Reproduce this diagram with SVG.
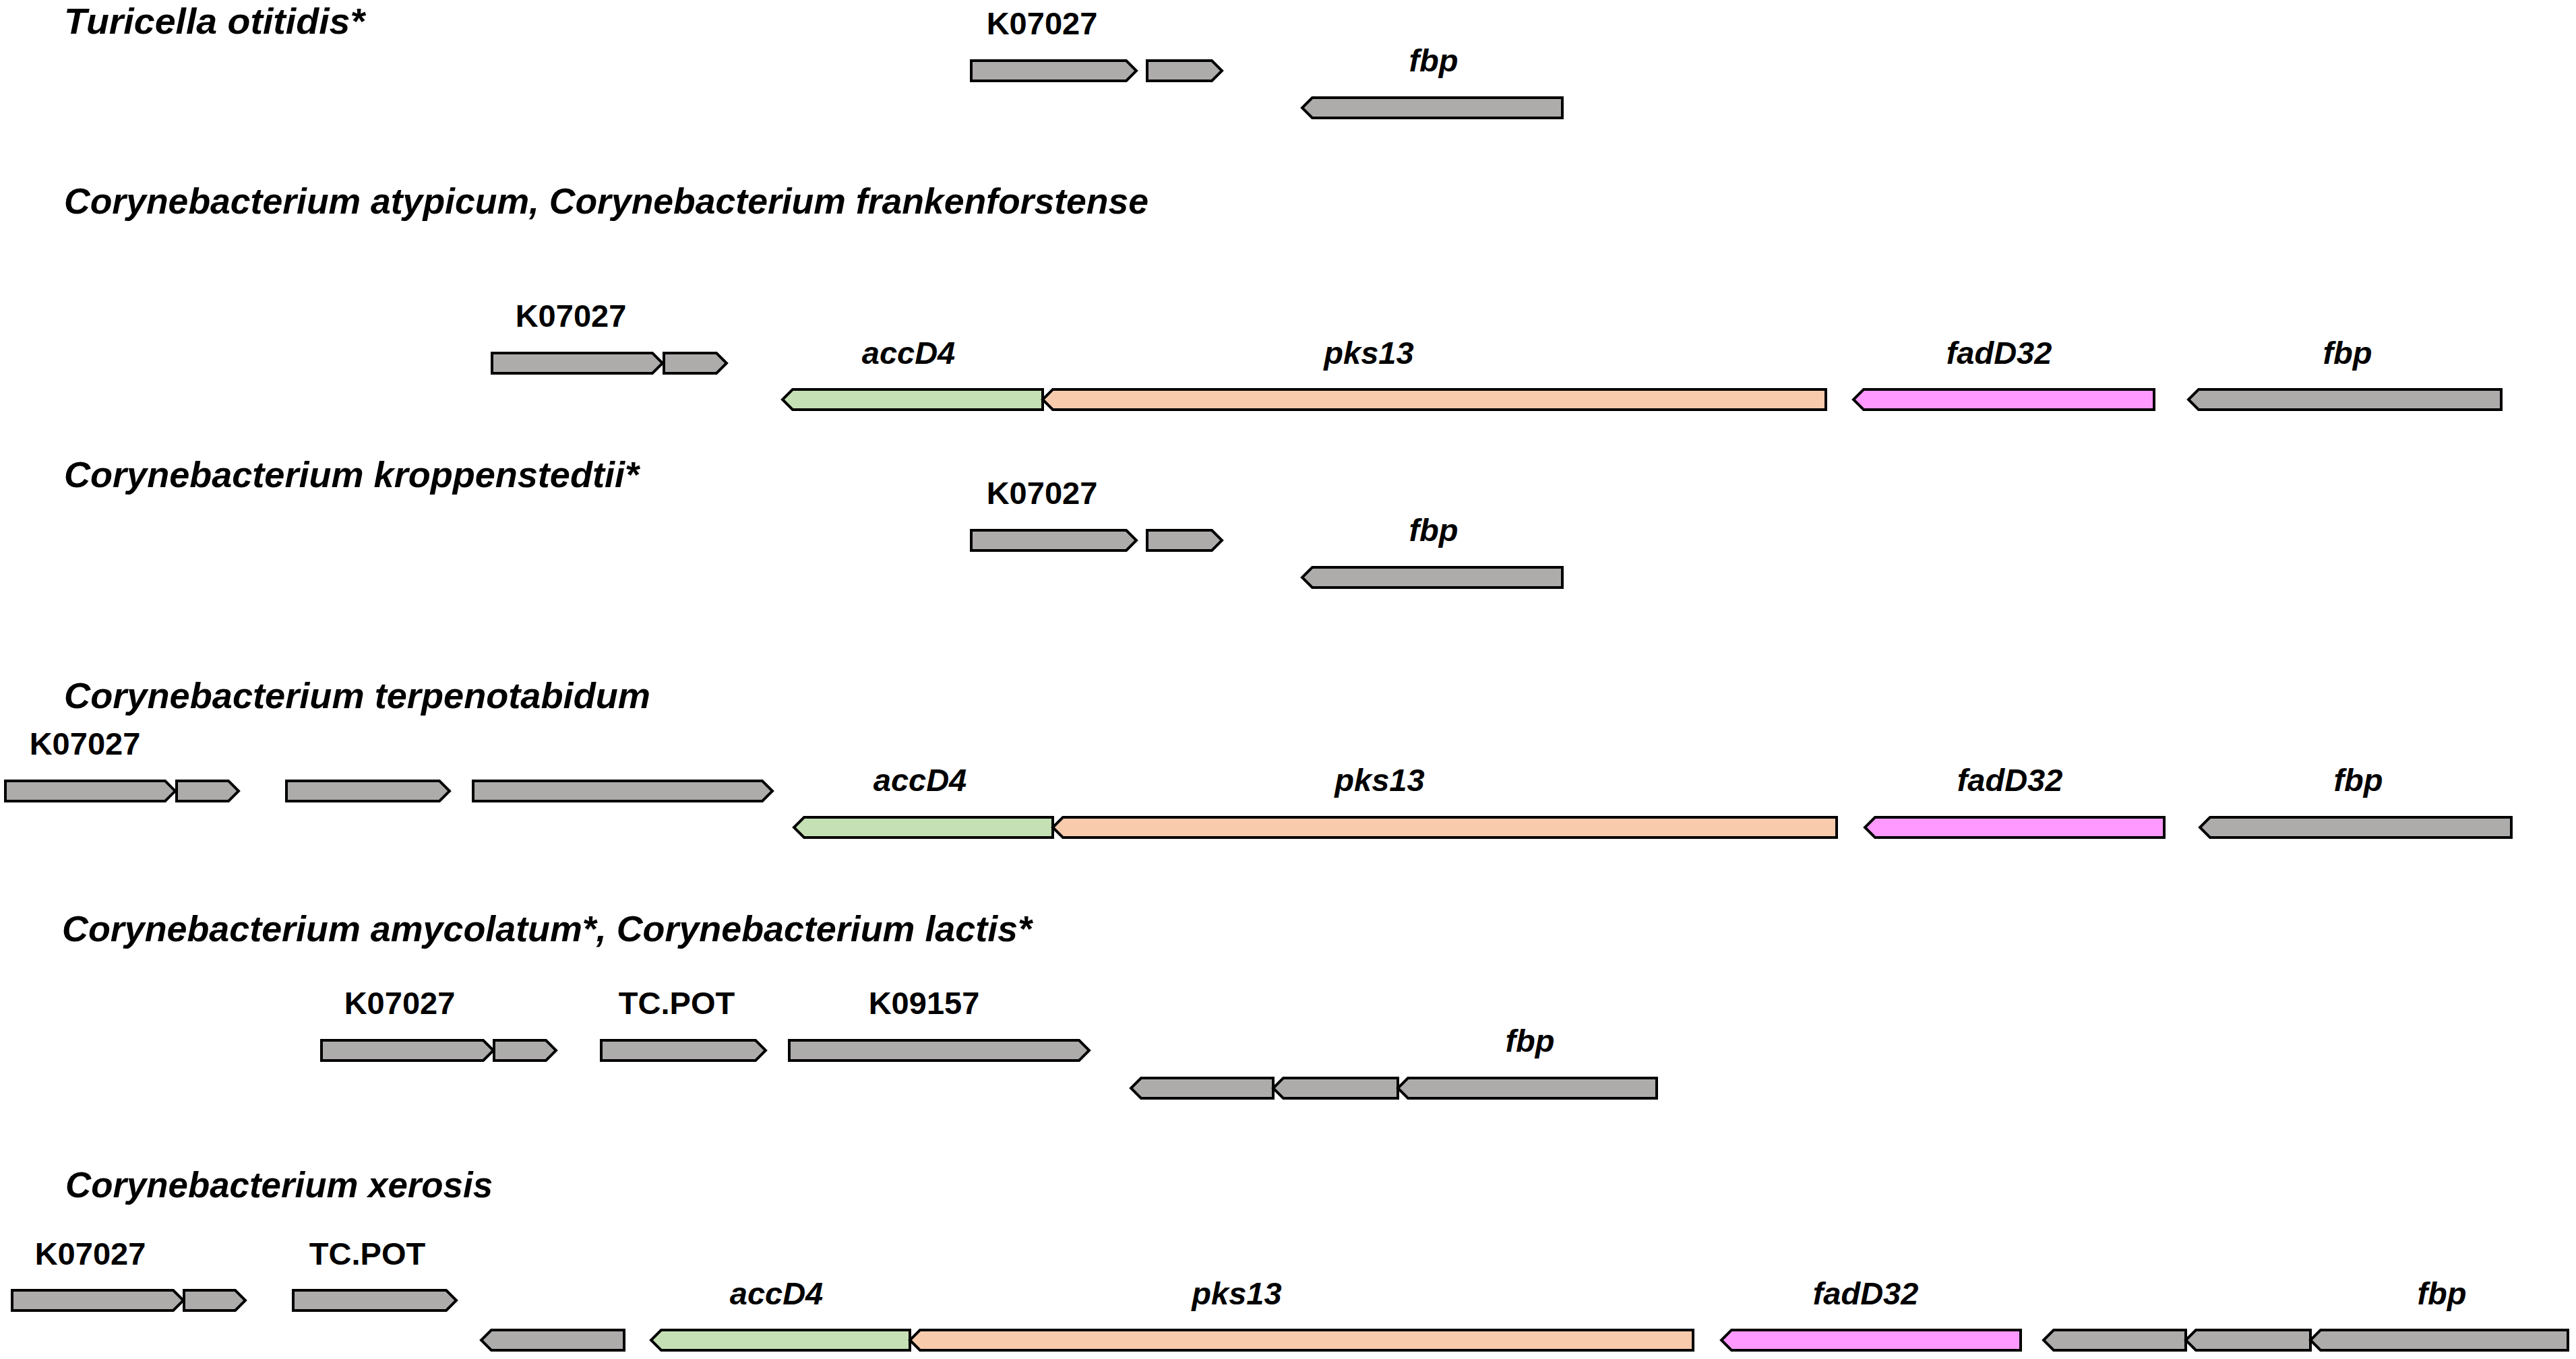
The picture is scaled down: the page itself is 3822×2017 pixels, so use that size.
<svg xmlns="http://www.w3.org/2000/svg" width="3822" height="2017" viewBox="0 0 3822 2017">
<style>
.t{font-family:"Liberation Sans",Arial,sans-serif;font-weight:bold;font-style:italic;font-size:54px;fill:#000}
.l{font-family:"Liberation Sans",Arial,sans-serif;font-weight:bold;font-size:47px;fill:#000;text-anchor:middle}
.i{font-style:italic}
.g{stroke:#000;stroke-width:4;stroke-linejoin:miter}
.gray{fill:#AEABAB}
.green{fill:#C5E0B4}
.peach{fill:#F8CBAD}
.pink{fill:#FF99FF}
</style>
<rect width="3822" height="2017" fill="#fff"/>
<g id="connectors"/>

<g id="row1">
<text class="t" x="95" y="50" textLength="446" lengthAdjust="spacingAndGlyphs">Turicella otitidis*</text>
<g id="r1-k07027"><path class="g gray" d="M1441,90 H1671 L1686,105 L1671,120 H1441 Z"/><text class="l" x="1546" y="51">K07027</text></g>
<g id="r1-g2"><path class="g gray" d="M1702,90 H1798 L1813,105 L1798,120 H1702 Z"/></g>
<g id="r1-fbp"><path class="g gray" d="M2318,145 H1947 L1932,160 L1947,175 H2318 Z"/><text class="l i" x="2127" y="106">fbp</text></g>
</g>

<g id="row2">
<text class="t" x="95" y="317" textLength="1609" lengthAdjust="spacingAndGlyphs">Corynebacterium atypicum, Corynebacterium frankenforstense</text>
<g id="r2-k07027"><path class="g gray" d="M730,524 H968 L983,539 L968,554 H730 Z"/><text class="l" x="847" y="485">K07027</text></g>
<g id="r2-g2"><path class="g gray" d="M985,524 H1063 L1078,539 L1063,554 H985 Z"/></g>
<g id="r2-accD4"><path class="g green" d="M1547,578 H1176 L1161,593 L1176,608 H1547 Z"/><text class="l i" x="1348" y="540">accD4</text></g>
<g id="r2-pks13"><path class="g peach" d="M2709,578 H1562 L1547,593 L1562,608 H2709 Z"/><text class="l i" x="2031" y="540">pks13</text></g>
<g id="r2-fadD32"><path class="g pink" d="M3196,578 H2765 L2750,593 L2765,608 H3196 Z"/><text class="l i" x="2966" y="540">fadD32</text></g>
<g id="r2-fbp"><path class="g gray" d="M3711,578 H3262 L3247,593 L3262,608 H3711 Z"/><text class="l i" x="3483" y="540">fbp</text></g>
</g>

<g id="row3">
<text class="t" x="95" y="723" textLength="853" lengthAdjust="spacingAndGlyphs">Corynebacterium kroppenstedtii*</text>
<g id="r3-k07027"><path class="g gray" d="M1441,787 H1671 L1686,802 L1671,817 H1441 Z"/><text class="l" x="1546" y="748">K07027</text></g>
<g id="r3-g2"><path class="g gray" d="M1702,787 H1798 L1813,802 L1798,817 H1702 Z"/></g>
<g id="r3-fbp"><path class="g gray" d="M2318,842 H1947 L1932,857 L1947,872 H2318 Z"/><text class="l i" x="2127" y="803">fbp</text></g>
</g>

<g id="row4">
<text class="t" x="95" y="1051" textLength="870" lengthAdjust="spacingAndGlyphs">Corynebacterium terpenotabidum</text>
<g id="r4-k07027"><path class="g gray" d="M8,1159 H245 L260,1174 L245,1189 H8 Z"/><text class="l" x="126" y="1120">K07027</text></g>
<g id="r4-g2"><path class="g gray" d="M262,1159 H339 L354,1174 L339,1189 H262 Z"/></g>
<g id="r4-g3"><path class="g gray" d="M425,1159 H652 L667,1174 L652,1189 H425 Z"/></g>
<g id="r4-g4"><path class="g gray" d="M702,1159 H1131 L1146,1174 L1131,1189 H702 Z"/></g>
<g id="r4-accD4"><path class="g green" d="M1562,1213 H1193 L1178,1228 L1193,1243 H1562 Z"/><text class="l i" x="1365" y="1174">accD4</text></g>
<g id="r4-pks13"><path class="g peach" d="M2725,1213 H1577 L1562,1228 L1577,1243 H2725 Z"/><text class="l i" x="2047" y="1174">pks13</text></g>
<g id="r4-fadD32"><path class="g pink" d="M3211,1213 H2782 L2767,1228 L2782,1243 H3211 Z"/><text class="l i" x="2982" y="1174">fadD32</text></g>
<g id="r4-fbp"><path class="g gray" d="M3726,1213 H3279 L3264,1228 L3279,1243 H3726 Z"/><text class="l i" x="3499" y="1174">fbp</text></g>
</g>

<g id="row5">
<text class="t" x="92" y="1397" textLength="1439" lengthAdjust="spacingAndGlyphs">Corynebacterium amycolatum*, Corynebacterium lactis*</text>
<g id="r5-k07027"><path class="g gray" d="M477,1544 H717 L732,1559 L717,1574 H477 Z"/><text class="l" x="593" y="1505">K07027</text></g>
<g id="r5-g2"><path class="g gray" d="M733,1544 H810 L825,1559 L810,1574 H733 Z"/></g>
<g id="r5-tcpot"><path class="g gray" d="M892,1544 H1121 L1136,1559 L1121,1574 H892 Z"/><text class="l" x="1004" y="1505">TC.POT</text></g>
<g id="r5-k09157"><path class="g gray" d="M1171,1544 H1601 L1616,1559 L1601,1574 H1171 Z"/><text class="l" x="1371" y="1505">K09157</text></g>
<g id="r5-g5"><path class="g gray" d="M1889,1600 H1693 L1678,1615 L1693,1630 H1889 Z"/></g>
<g id="r5-g6"><path class="g gray" d="M2074,1600 H1904 L1889,1615 L1904,1630 H2074 Z"/></g>
<g id="r5-fbp"><path class="g gray" d="M2458,1600 H2089 L2074,1615 L2089,1630 H2458 Z"/><text class="l i" x="2270" y="1561">fbp</text></g>
</g>

<g id="row6">
<text class="t" x="97" y="1777" textLength="634" lengthAdjust="spacingAndGlyphs">Corynebacterium xerosis</text>
<g id="r6-k07027"><path class="g gray" d="M18,1915 H257 L272,1930 L257,1945 H18 Z"/><text class="l" x="134" y="1877">K07027</text></g>
<g id="r6-g2"><path class="g gray" d="M273,1915 H349 L364,1930 L349,1945 H273 Z"/></g>
<g id="r6-tcpot"><path class="g gray" d="M435,1915 H662 L677,1930 L662,1945 H435 Z"/><text class="l" x="545" y="1877">TC.POT</text></g>
<g id="r6-g4"><path class="g gray" d="M926,1974 H729 L714,1989 L729,2004 H926 Z"/></g>
<g id="r6-accD4"><path class="g green" d="M1350,1974 H981 L966,1989 L981,2004 H1350 Z"/><text class="l i" x="1152" y="1936">accD4</text></g>
<g id="r6-pks13"><path class="g peach" d="M2512,1974 H1365 L1350,1989 L1365,2004 H2512 Z"/><text class="l i" x="1835" y="1936">pks13</text></g>
<g id="r6-fadD32"><path class="g pink" d="M2998,1974 H2569 L2554,1989 L2569,2004 H2998 Z"/><text class="l i" x="2768" y="1936">fadD32</text></g>
<g id="r6-g8"><path class="g gray" d="M3243,1974 H3047 L3032,1989 L3047,2004 H3243 Z"/></g>
<g id="r6-g9"><path class="g gray" d="M3428,1974 H3258 L3243,1989 L3258,2004 H3428 Z"/></g>
<g id="r6-fbp"><path class="g gray" d="M3810,1974 H3443 L3428,1989 L3443,2004 H3810 Z"/><text class="l i" x="3623" y="1936">fbp</text></g>
</g>
</svg>
